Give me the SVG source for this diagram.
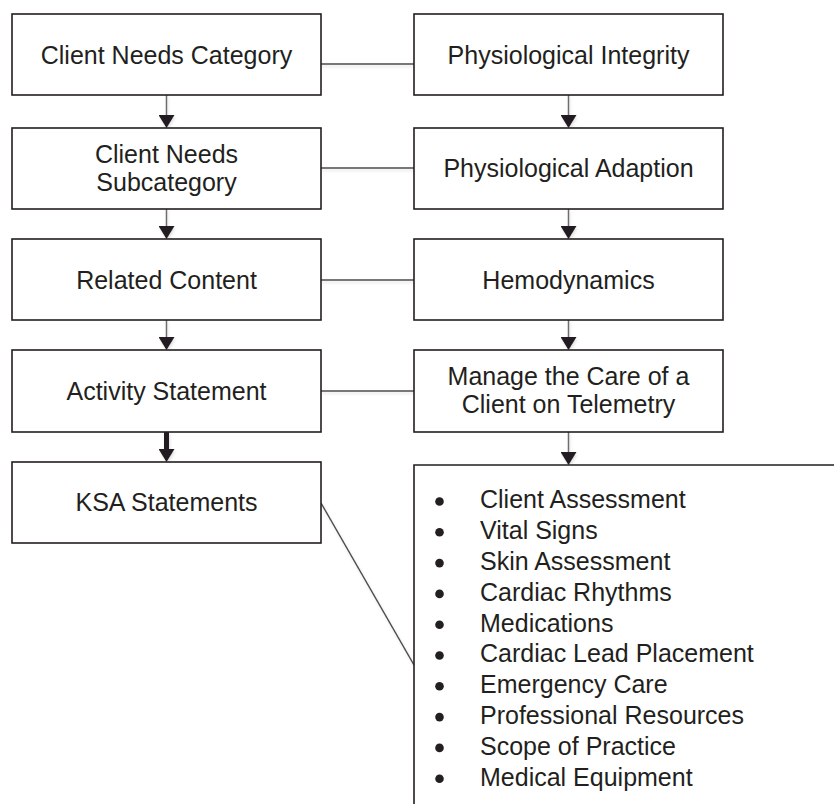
<svg xmlns="http://www.w3.org/2000/svg" width="834" height="804" viewBox="0 0 834 804">
  <style>
    .box { fill: #ffffff; stroke: #231f20; stroke-width: 1.6; }
    .lbl { font-family: "Liberation Sans", Arial, sans-serif; font-size: 25px; fill: #231f20; text-anchor: middle; }
    .item { font-family: "Liberation Sans", Arial, sans-serif; font-size: 25px; fill: #231f20; }
    .conn { stroke: #4d4d4d; stroke-width: 1.5; fill: none; }
    .arr { stroke: #6d6d6d; stroke-width: 1.5; fill: none; }
    .thick { stroke: #231f20; stroke-width: 5; fill: none; }
    .bullet { fill: #231f20; }
  </style>
  <defs>
    <marker id="head" markerUnits="userSpaceOnUse" markerWidth="14" markerHeight="16" refX="0" refY="8" orient="auto" viewBox="0 0 14 16">
      <path d="M0,0 L13,8 L0,16 z" fill="#231f20"/>
    </marker>
    <filter id="sh" x="-10%" y="-50%" width="120%" height="300%">
      <feDropShadow dx="1" dy="2" stdDeviation="1.5" flood-color="#000" flood-opacity="0.12"/>
    </filter>
  </defs>

  <g id="connectors" filter="url(#sh)">
    <line class="conn" x1="321" y1="64" x2="414" y2="64"/>
    <line class="conn" x1="321" y1="168" x2="414" y2="168"/>
    <line class="conn" x1="321" y1="280" x2="414" y2="280"/>
    <line class="conn" x1="321" y1="391" x2="414" y2="391"/>
    <line class="conn" x1="321" y1="503" x2="414" y2="665"/>
    <line class="arr" x1="166.5" y1="95" x2="166.5" y2="115" marker-end="url(#head)"/>
    <line class="arr" x1="166.5" y1="209" x2="166.5" y2="226" marker-end="url(#head)"/>
    <line class="arr" x1="166.5" y1="320" x2="166.5" y2="337" marker-end="url(#head)"/>
    <line class="thick" x1="166.5" y1="432" x2="166.5" y2="449" marker-end="url(#head)"/>
    <line class="arr" x1="568.5" y1="95" x2="568.5" y2="115" marker-end="url(#head)"/>
    <line class="arr" x1="568.5" y1="209" x2="568.5" y2="226" marker-end="url(#head)"/>
    <line class="arr" x1="568.5" y1="320" x2="568.5" y2="337" marker-end="url(#head)"/>
    <line class="arr" x1="568.5" y1="432" x2="568.5" y2="452" marker-end="url(#head)"/>
  </g>

  <g id="client-needs-category">
    <rect class="box" x="12" y="14" width="309" height="81"/>
    <text class="lbl" x="166.5" y="64">Client Needs Category</text>
  </g>
  <g id="client-needs-subcategory">
    <rect class="box" x="12" y="128" width="309" height="81"/>
    <text class="lbl" x="166.5" y="163">Client Needs</text>
    <text class="lbl" x="166.5" y="191">Subcategory</text>
  </g>
  <g id="related-content">
    <rect class="box" x="12" y="239" width="309" height="81"/>
    <text class="lbl" x="166.5" y="288.5">Related Content</text>
  </g>
  <g id="activity-statement">
    <rect class="box" x="12" y="350" width="309" height="82"/>
    <text class="lbl" x="166.5" y="400">Activity Statement</text>
  </g>
  <g id="ksa-statements">
    <rect class="box" x="12" y="462" width="309" height="81"/>
    <text class="lbl" x="166.5" y="511">KSA Statements</text>
  </g>

  <g id="physiological-integrity">
    <rect class="box" x="414" y="14" width="309" height="81"/>
    <text class="lbl" x="568.5" y="64">Physiological Integrity</text>
  </g>
  <g id="physiological-adaption">
    <rect class="box" x="414" y="128" width="309" height="81"/>
    <text class="lbl" x="568.5" y="177">Physiological Adaption</text>
  </g>
  <g id="hemodynamics">
    <rect class="box" x="414" y="239" width="309" height="81"/>
    <text class="lbl" x="568.5" y="288.5">Hemodynamics</text>
  </g>
  <g id="manage-care">
    <rect class="box" x="414" y="350" width="309" height="82"/>
    <text class="lbl" x="568.5" y="385">Manage the Care of a</text>
    <text class="lbl" x="568.5" y="413">Client on Telemetry</text>
  </g>

  <g id="ksa-list">
    <path d="M834,465 H414 V804" fill="#ffffff" stroke="#231f20" stroke-width="1.6"/>
    <circle class="bullet" cx="439.5" cy="501.5" r="4.3"/>
    <circle class="bullet" cx="439.5" cy="532.3" r="4.3"/>
    <circle class="bullet" cx="439.5" cy="563.1" r="4.3"/>
    <circle class="bullet" cx="439.5" cy="593.9" r="4.3"/>
    <circle class="bullet" cx="439.5" cy="624.7" r="4.3"/>
    <circle class="bullet" cx="439.5" cy="655.5" r="4.3"/>
    <circle class="bullet" cx="439.5" cy="686.3" r="4.3"/>
    <circle class="bullet" cx="439.5" cy="717.1" r="4.3"/>
    <circle class="bullet" cx="439.5" cy="747.9" r="4.3"/>
    <circle class="bullet" cx="439.5" cy="778.7" r="4.3"/>
    <text class="item" x="480" y="508.3">Client Assessment</text>
    <text class="item" x="480" y="539.1">Vital Signs</text>
    <text class="item" x="480" y="569.9">Skin Assessment</text>
    <text class="item" x="480" y="600.7">Cardiac Rhythms</text>
    <text class="item" x="480" y="631.5">Medications</text>
    <text class="item" x="480" y="662.3">Cardiac Lead Placement</text>
    <text class="item" x="480" y="693.1">Emergency Care</text>
    <text class="item" x="480" y="723.9">Professional Resources</text>
    <text class="item" x="480" y="754.7">Scope of Practice</text>
    <text class="item" x="480" y="785.5">Medical Equipment</text>
  </g>
</svg>
